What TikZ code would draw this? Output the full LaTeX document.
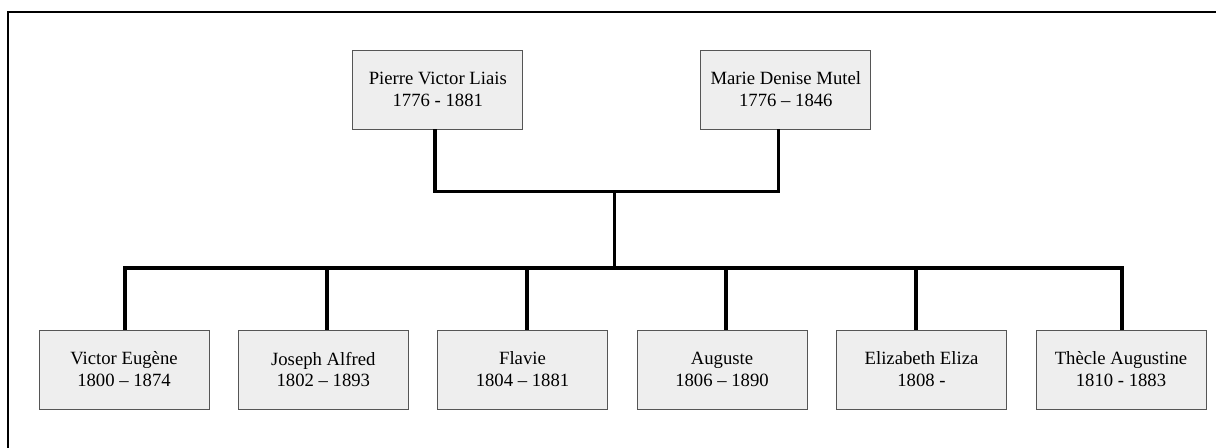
\documentclass[tikz,border=0pt]{standalone}
\usepackage{fontspec}
\setmainfont{Liberation Serif}
\usepackage{tikz}
\usetikzlibrary{calc}
\definecolor{boxgray}{HTML}{EEEEEE}
\definecolor{edgegray}{HTML}{555555}
\tikzstyle{person} = [rectangle,draw=edgegray,line width=0.6pt,fill=boxgray,minimum width=42.5mm,minimum height=19.75mm,inner sep=0pt,align=center,font=\fontsize{13.3}{15.6}\selectfont]
\tikzstyle{link} = [line width=2.6pt,black]
\begin{document}
\begin{tikzpicture}[x=0.25mm,y=-0.25mm]
    \useasboundingbox (0,0) rectangle (1216,448);
    \draw [line width=0.8pt] (8,448) -- (8,12) -- (1216,12);
    \node [person] (pierre) at (437.8,89.5) {Pierre Victor Liais\\1776 - 1881};
    \node [person] (marie) at (785.8,89.5) {Marie Denise Mutel\\1776 – 1846};
    \node [person] (victor) at (124,369.5) {Victor Eugène\\ 1800 – 1874};
    \node [person] (joseph) at (323.3,369.5) {Joseph Alfred\\1802 – 1893};
    \node [person] (flavie) at (522.5,369.5) {Flavie\\1804 – 1881};
    \node [person] (auguste) at (722,369.5) {Auguste\\1806 – 1890};
    \node [person] (elizabeth) at (921.5,369.5) {Elizabeth Eliza\\1808 -};
    \node [person] (thecle) at (1121,369.5) {Thècle Augustine\\1810 - 1883};
    \coordinate (join) at (614.5,191.5);
    \coordinate (bus) at (614.5,268);
    \draw [link] ([xshift=-0.7mm]pierre.south) |- (join) -| ([xshift=-1.8mm]marie.south);
    \draw [link] (join) -- (bus);
    \foreach \n/\x in {victor/125,joseph/327,flavie/527,auguste/726,elizabeth/916,thecle/1122} {
      \coordinate (c\n) at (\x,268);
      \draw [link] (c\n) -- (c\n |- \n.north);
    }
    \draw [link,line cap=rect] (cvictor) -- (cthecle);
  \end{tikzpicture}
\end{document}
